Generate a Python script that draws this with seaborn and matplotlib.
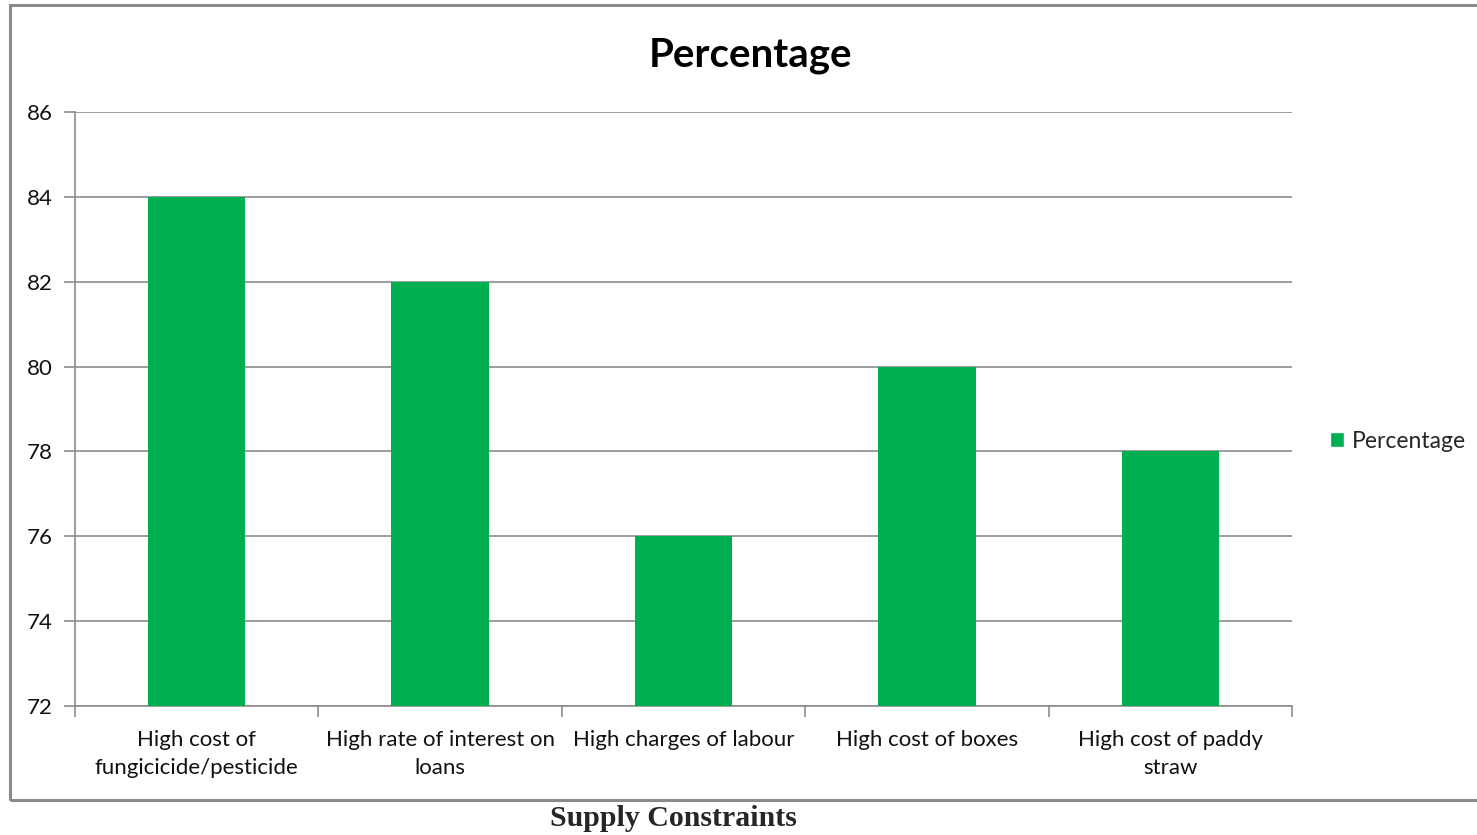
import matplotlib
matplotlib.use("Agg")
import matplotlib.pyplot as plt
import seaborn as sns
import pandas as pd
import numpy as np
from matplotlib.patches import Rectangle, Patch

categories = [
    "High cost of\nfungicicide/pesticide",
    "High rate of interest on\nloans",
    "High charges of labour",
    "High cost of boxes",
    "High cost of paddy\nstraw",
]
percentages = [84, 82, 76, 80, 78]
y_ticks = [72, 74, 76, 78, 80, 82, 84, 86]

sns.set_theme(style="white")
plt.rcParams["font.family"] = ["Lato", "DejaVu Sans"]

bar_color = "#00B050"
grid_color = "#8c8c8c"

df = pd.DataFrame({"constraint": categories, "pct": percentages})

fig = plt.figure(figsize=(14.77, 8.35), dpi=100)
ax = fig.add_axes([75 / 1477, 1 - 706 / 835, (1292 - 75) / 1477, (706 - 112) / 835])

sns.barplot(data=df, x="constraint", y="pct", color=bar_color, width=0.4,
            saturation=1, linewidth=0, ax=ax, zorder=3)

ax.set_ylim(72, 86)
ax.set_xlim(-0.5, len(categories) - 0.5)
ax.set_yticks(y_ticks)
ax.set_yticklabels([str(v) for v in y_ticks], fontsize=16, color="#111111")
ax.yaxis.grid(True, color=grid_color, linewidth=1.2, zorder=0)
ax.set_axisbelow(True)

# category labels centred, tick marks on the boundaries between categories
ax.set_xticks(range(len(categories)))
ax.set_xticklabels(categories, fontsize=16, color="#111111", linespacing=1.55)
ax.tick_params(axis="x", which="major", length=0, pad=17)
ax.set_xticks(np.arange(-0.5, len(categories), 1.0), minor=True)
ax.tick_params(axis="x", which="minor", length=8, width=1.2, color=grid_color, bottom=True)
ax.tick_params(axis="y", length=8, width=1.2, color=grid_color, left=True, pad=8)

for side in ["top", "right"]:
    ax.spines[side].set_visible(False)
for side in ["left", "bottom"]:
    ax.spines[side].set_color(grid_color)
    ax.spines[side].set_linewidth(1.2)

ax.set_xlabel("")
ax.set_ylabel("")

fig.text(751 / 1477, 1 - 56 / 835, "Percentage", ha="center", va="center",
         fontsize=29, fontweight="bold", color="black")

leg = fig.legend(handles=[Patch(facecolor=bar_color, label="Percentage")],
                 loc="center left", bbox_to_anchor=(1321 / 1477, 1 - 441 / 835),
                 frameon=False, fontsize=16.5, handlelength=0.6, handleheight=0.6,
                 handletextpad=0.35, borderaxespad=0)

# outer chart frame
fig.patches.append(Rectangle((10 / 1477, 1 - 800 / 835), 1475 / 1477, 795 / 835,
                             transform=fig.transFigure, fill=False,
                             edgecolor="#8a8a8a", linewidth=2.2))

fig.text(673 / 1477, 1 - 818 / 835, "Supply Constraints", ha="center", va="center",
         fontsize=21.5, fontweight="bold", family=["Liberation Serif", "DejaVu Serif"])

fig.savefig("out.png", dpi=100, facecolor="white")
